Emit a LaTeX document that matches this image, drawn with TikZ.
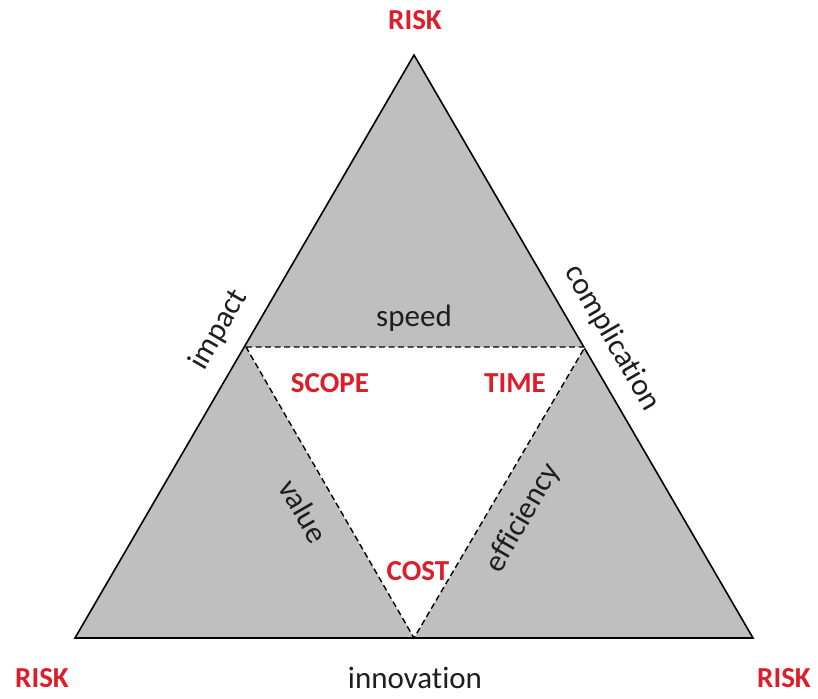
\documentclass[tikz,border=0pt]{standalone}
\usepackage{fontspec}
\setmainfont{Carlito}[Ligatures=NoCommon]
\definecolor{riskred}{RGB}{222,29,42}
\definecolor{areagrey}{RGB}{191,191,191}
\definecolor{txtgrey}{RGB}{30,30,30}
\begin{document}
\begin{tikzpicture}[x=1pt,y=-1pt,
  lbl/.style={font=\fontsize{31}{36}\selectfont, text=txtgrey, inner sep=0pt},
  key/.style={font=\fontsize{29}{34}\selectfont\bfseries, text=riskred, inner sep=0pt},
  outer/.style={draw=black, line width=1.6pt, fill=areagrey, line join=miter},
  inner/.style={draw=black, line width=1.4pt, dash pattern=on 6pt off 3.5pt}]
\useasboundingbox (0,0) rectangle (818,698);
\coordinate (T) at (414,55);
\coordinate (L) at (75,638);
\coordinate (R) at (753,638);
\coordinate (A) at (246,347);
\coordinate (B) at (585,347);
\coordinate (C) at (414,638);
\draw[outer] (T) -- (R) -- (L) -- cycle;
\fill[white] (A) -- (B) -- (C) -- cycle;
\draw[inner] (A) -- (B) -- (C) -- cycle;
\draw[black, line width=1.6pt] (L) -- (R);
\node[key] (risktop) at (415,20) {RISK};
\node[key] (riskleft) at (42,678) {RISK};
\node[key] (riskright) at (784,678) {RISK};
\node[key] (scope) at (330,383) {SCOPE};
\node[key] (time) at (515,383) {TIME};
\node[key] (cost) at (418,571) {COST};
\node[lbl] (speed) at (414,318) {speed};
\node[lbl] (innovation) at (415,678) {innovation};
\node[lbl, rotate=60] (impact) at (219,330) {impact};
\node[lbl, rotate=-60] (complication) at (612,338) {complication};
\node[lbl, rotate=-60] (value) at (304,511) {value};
\node[lbl, rotate=60] (efficiency) at (523,518) {efficiency};
\end{tikzpicture}
\end{document}
